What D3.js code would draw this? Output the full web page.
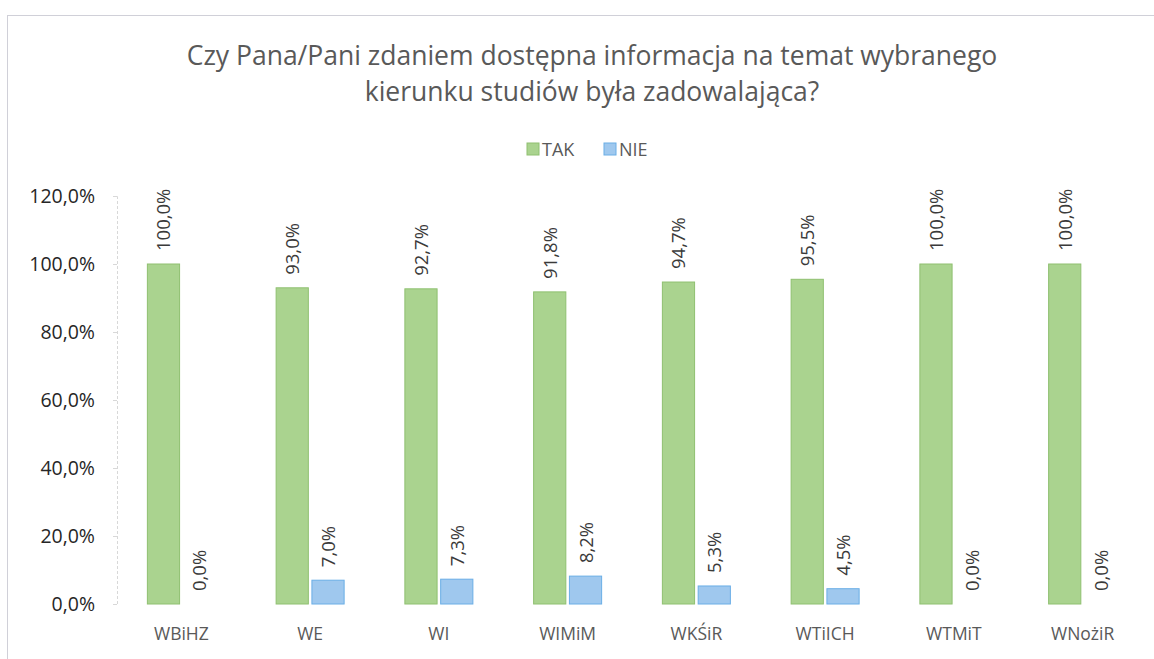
<!DOCTYPE html>
<html>
<head>
<meta charset="utf-8">
<script src="https://cdn.jsdelivr.net/npm/d3@7"></script>
<style>
  body { margin: 0; background: #fff; }
  text { font-family: "Open Sans", "Noto Sans", sans-serif; }
</style>
</head>
<body>
<svg id="chart"></svg>
<script>
var categories = ['WBiHZ', 'WE', 'WI', 'WIMiM', 'WKŚiR', 'WTiICH', 'WTMiT', 'WNożiR'];
var seriesNames = ['TAK', 'NIE'];
var takValues = [100.0, 93.0, 92.7, 91.8, 94.7, 95.5, 100.0, 100.0];
var nieValues = [0.0, 7.0, 7.3, 8.2, 5.3, 4.5, 0.0, 0.0];
var yTicks = [0, 20, 40, 60, 80, 100, 120];
var titleLines = ['Czy Pana/Pani zdaniem dostępna informacja na temat wybranego',
                  'kierunku studiów była zadowalająca?'];

(function () {
  var width = 1154, height = 659;
  var margin = {top: 196, right: 7, bottom: 55, left: 117};
  var colors = {TAK: {fill: '#aad38f', stroke: '#8fc070'}, NIE: {fill: '#9fc8ee', stroke: '#6aaee6'}};
  var textColor = '#3a3a3a';

  var svg = d3.select('#chart').attr('width', width).attr('height', height);

  // chart frame
  svg.append('rect')
    .attr('x', 7.5).attr('y', 15.5)
    .attr('width', width + 10).attr('height', height)
    .style('fill', 'none').style('stroke', '#d0d0d8');

  svg.selectAll('.title')
    .data(titleLines)
    .enter().append('text')
    .attr('class', 'title')
    .attr('x', 592).attr('y', function(d, i) { return 65 + i * 36; })
    .attr('text-anchor', 'middle')
    .style('font-size', '26.5px')
    .attr('fill', '#595959')
    .text(function(d) { return d; });

  var g = svg.append('g').attr('transform', 'translate(' + margin.left + ',' + margin.top + ')');
  var w = width - margin.left - margin.right, h = height - margin.top - margin.bottom;

  var x = d3.scaleBand().domain(categories).range([0, w]);
  var x1 = d3.scaleBand().domain(seriesNames).range([x.bandwidth() / 2 - 34, x.bandwidth() / 2 + 34]).paddingInner(0.1);
  var y = d3.scaleLinear().domain([0, 120]).range([h, 0]);

  // legend
  var legend = svg.append('g').attr('transform', 'translate(527,141)');
  var items = legend.selectAll('g').data(seriesNames).enter().append('g')
    .attr('transform', function(d, i) { return 'translate(' + (i * 77) + ',0)'; });
  items.append('rect').attr('width', 12).attr('height', 12).attr('y', 2)
    .style('fill', function(d) { return colors[d].fill; })
    .style('stroke', function(d) { return colors[d].stroke; });
  items.append('text').attr('x', 15).attr('y', 15)
    .style('font-size', '18px').attr('fill', '#595959')
    .text(function(d) { return d; });

  // y axis
  var yAxis = g.append('g').attr('class', 'axis axis--y')
    .call(d3.axisLeft(y).tickValues(yTicks).tickSize(4)
      .tickFormat(function(d) { return d.toFixed(1).replace('.', ',') + '%'; }));
  yAxis.select('.domain').style('stroke', '#d8d8d8').style('stroke-dasharray', '3,2');
  yAxis.selectAll('.tick line').style('stroke', '#d8d8d8');
  yAxis.selectAll('.tick text').attr('x', -22)
    .style('font-size', '19.5px').style('font-family', '"Open Sans", sans-serif')
    .attr('fill', '#262626');

  // x labels
  g.append('g').attr('transform', 'translate(0,' + h + ')')
    .selectAll('text').data(categories).enter().append('text')
    .attr('x', function(d) { return x(d) + x.bandwidth() / 2; })
    .attr('y', 36)
    .attr('text-anchor', 'middle')
    .style('font-size', '17.5px').attr('fill', '#595959')
    .text(function(d) { return d; });

  var rows = categories.map(function(c, i) {
    return {cat: c, values: [{key: 'TAK', v: takValues[i]}, {key: 'NIE', v: nieValues[i]}]};
  });

  var groups = g.selectAll('.grp').data(rows).enter().append('g')
    .attr('class', 'grp')
    .attr('transform', function(d) { return 'translate(' + x(d.cat) + ',0)'; });

  groups.selectAll('rect').data(function(d) { return d.values; }).enter().append('rect')
    .attr('x', function(d) { return x1(d.key); })
    .attr('y', function(d) { return y(d.v); })
    .attr('width', x1.bandwidth())
    .attr('height', function(d) { return h - y(d.v); })
    .style('fill', function(d) { return colors[d.key].fill; })
    .style('stroke', function(d) { return colors[d.key].stroke; });

  groups.selectAll('.lbl').data(function(d) { return d.values; }).enter().append('text')
    .attr('class', 'lbl')
    .attr('transform', function(d) {
      return 'translate(' + (x1(d.key) + x1.bandwidth() / 2 + 7) + ',' + (y(d.v) - 13) + ') rotate(-90)';
    })
    .style('font-size', '18.5px').attr('fill', textColor)
    .text(function(d) { return d.v.toFixed(1).replace('.', ',') + '%'; });
})();
</script>
</body>
</html>
